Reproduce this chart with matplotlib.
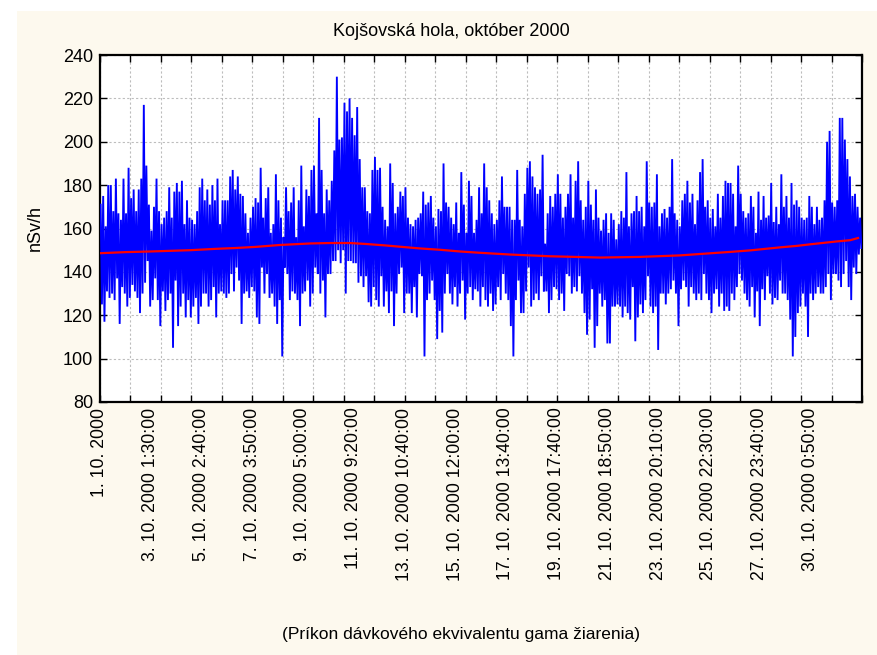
import numpy as np
import matplotlib
matplotlib.use("Agg")
import matplotlib.pyplot as plt
from matplotlib.patches import Rectangle

# ---------------- data ----------------
N_SAMPLES = 4400          # number of 10-minute records on the x axis
LABEL_STEP = 293          # every n-th record labelled
GRID_STEP = 176           # grid spacing in records

x_labels = ["1. 10. 2000", "3. 10. 2000 1:30:00", "5. 10. 2000 2:40:00",
            "7. 10. 2000 3:50:00", "9. 10. 2000 5:00:00", "11. 10. 2000 9:20:00",
            "13. 10. 2000 10:40:00", "15. 10. 2000 12:00:00", "17. 10. 2000 13:40:00",
            "19. 10. 2000 17:40:00", "21. 10. 2000 18:50:00", "23. 10. 2000 20:10:00",
            "25. 10. 2000 22:30:00", "27. 10. 2000 23:40:00", "30. 10. 2000 0:50:00"]

# local maxima / minima of the dose-rate record (nSv/h), left to right
dose_high = [
    171,175,161,180,180,168,183,167,164,183, 167,188,174,178,168,178,183,217,189,171,
    159,170,183,168,162,165,168,179,165,177, 181,177,182,162,173,165,164,162,168,179,
    183,173,178,171,180,173,183,162,173,173,
    173,184,187,178,184,176,175,167,158,165, 170,174,172,188,165,174,179,158,162,185,
    173,165,156,179,168,172,179,156,173,189, 161,178,175,187,189,167,211,187,167,178,
    173,182,196,230,201,202,218,214,220,211,
    203,216,192,179,179,168,167,187,193,187, 188,170,164,161,190,181,167,170,177,175,
    179,165,162,161,164,165,167,177,171,172, 175,165,161,169,168,190,172,170,165,162,
    172,158,186,171,158,182,175,158,164,179,
    167,190,179,173,167,162,164,173,184,170, 170,170,164,164,187,164,161,176,188,191,
    184,179,176,178,194,153,167,175,170,176, 185,176,165,170,176,185,165,182,191,173,
    164,170,182,171,164,178,165,159,164,167,
    158,167,164,155,162,168,165,186,161,167, 168,175,168,170,161,191,172,170,172,185,
    161,167,169,165,170,192,167,164,161,173, 176,182,172,176,162,173,186,192,170,173,
    165,169,161,176,165,175,182,181,181,176,
    161,189,176,168,165,167,175,170,158,177, 164,175,165,166,181,163,170,162,185,170,
    175,165,181,171,173,170,165,164,165,175, 170,162,170,164,165,173,200,205,172,170,
    173,211,211,201,192,184,175,176,170,165,
]
dose_low = [
    125,117,131,128,130,127,137,116,133,130, 124,128,134,131,128,121,130,135,145,124,
    127,137,127,115,131,122,127,130,105,136, 115,124,130,119,127,119,124,128,116,124,
    130,130,124,127,133,119,130,131,130,128,
    130,139,131,142,136,116,130,131,128,133, 131,119,116,142,130,139,128,130,124,116,
    127,101,142,139,127,131,130,127,115,130, 131,136,124,130,142,139,130,136,119,139,
    139,145,145,150,144,150,130,145,145,144,
    144,135,138,133,138,126,124,133,127,124, 138,124,131,121,131,115,130,139,142,121,
    130,130,121,133,119,139,138,101,127,130, 136,127,109,122,112,130,139,130,125,133,
    124,130,136,118,130,133,127,132,131,124,
    133,127,124,130,122,125,133,127,139,130, 127,115,101,127,136,121,121,131,142,124,
    127,130,127,138,131,131,121,127,133,132, 127,130,122,139,138,130,133,131,138,130,
    121,111,118,132,105,115,130,124,127,107,
    107,124,124,125,124,119,124,121,118,133, 108,119,125,121,127,138,124,121,124,104,
    130,130,125,130,132,136,130,115,132,136, 133,124,133,130,127,130,127,139,130,127,
    121,130,132,124,130,122,124,122,130,127,
    133,139,136,130,127,124,133,119,131,115, 132,127,138,130,125,128,127,136,130,130,
    127,118,101,110,121,124,130,124,110,130, 127,130,133,130,130,133,139,127,139,139,
    136,133,139,145,133,127,142,139,148,151,
]

# smoothed trend (red curve): record index and value
trend_idx = [0, 144, 289, 520, 664, 780, 895, 1039, 1213, 1328, 1444, 1530, 1646,
             1761, 1848, 1963, 2079, 2194, 2367, 2598, 2887, 3118, 3349, 3493, 3638,
             3753, 3840, 3927, 4025, 4100, 4169, 4250, 4331, 4377]
trend_val = [148.6, 149.1, 149.4, 150.0, 150.6, 151.0, 151.5, 152.4, 153.1, 153.3,
             153.3, 152.9, 152.2, 151.4, 150.8, 150.2, 149.4, 148.8, 148.0, 147.2,
             146.6, 146.9, 147.6, 148.4, 149.2, 149.9, 150.6, 151.3, 152.0, 152.7,
             153.3, 154.0, 154.6, 155.6]

title = "Kojšovská hola, október 2000"
ylabel = "nSv/h"
xlabel = "(Príkon dávkového ekvivalentu gama žiarenia)"

# ---------------- figure ----------------
plt.rcParams['font.family'] = ['Liberation Sans', 'DejaVu Sans']
W, H = 878, 655
fig = plt.figure(figsize=(W / 100, H / 100), dpi=100, facecolor='white')
fig.patches.append(Rectangle((17 / W, 0), 1 - 17 / W, 1 - 11 / H,
                             transform=fig.transFigure, facecolor='#FDF9EE',
                             edgecolor='none', zorder=-10))

ax = fig.add_axes([100 / W, 1 - 402 / H, (862 - 100) / W, (402 - 55) / H])
ax.set_facecolor('white')

n = len(dose_high)
seg = N_SAMPLES / n
xs = np.empty(2 * n)
ys = np.empty(2 * n)
xs[0::2] = (np.arange(n) + 0.25) * seg
xs[1::2] = (np.arange(n) + 0.75) * seg
ys[0::2] = dose_high
ys[1::2] = dose_low
ax.plot(xs, ys, color='#0000FF', lw=1.35, zorder=3, solid_joinstyle='miter')
ax.plot(trend_idx, trend_val, color='#FF0000', lw=1.6, zorder=4)

ax.set_xlim(0, N_SAMPLES)
ax.set_ylim(80, 240)
ax.set_yticks(np.arange(80, 241, 20))
ax.xaxis.remove_overlapping_locs = False
ax.set_xticks(np.arange(0, N_SAMPLES + 1, GRID_STEP))
ax.set_xticklabels([])
ax.set_xticks(np.arange(len(x_labels)) * LABEL_STEP, minor=True)
ax.set_xticklabels(x_labels, minor=True, rotation=90, fontsize=12.7)
ax.tick_params(axis='x', which='minor', length=0, pad=4)
ax.tick_params(axis='both', which='major', direction='in', length=5, width=1,
               top=True, right=True, labelsize=13)
ax.tick_params(axis='y', pad=5)
ax.grid(True, which='major', color='#BDBDBD', linestyle=(0, (2, 2)), lw=0.8)
for s in ax.spines.values():
    s.set_linewidth(1.6)
    s.set_color('black')

fig.text(451 / W, 1 - 31 / H, title, ha='center', va='center', fontsize=13)
fig.text(35 / W, 1 - 228 / H, ylabel, ha='center', va='center', rotation=90,
         fontsize=13)
fig.text(461 / W, 1 - 635 / H, xlabel, ha='center', va='center', fontsize=12.5)

fig.savefig("out.png", dpi=100, facecolor=fig.get_facecolor())
